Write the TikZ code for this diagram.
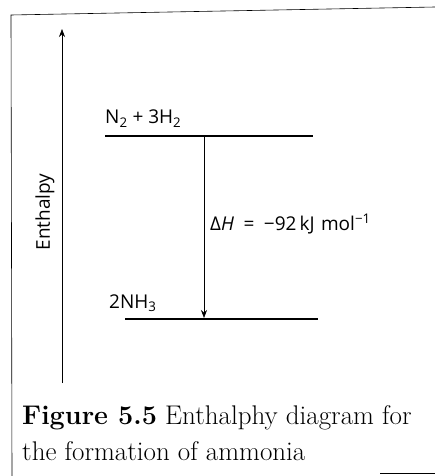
\documentclass[tikz,border=0pt]{standalone}
\usepackage{fontspec}
\setsansfont{Open Sans}
\usetikzlibrary{arrows.meta}

\begin{document}
\begin{tikzpicture}[x=1pt, y=-1pt,
    level/.style={line width=1.1pt},
    lbl/.style={font=\sffamily\fontsize{19}{22}\selectfont, inner sep=0pt},
    capt/.style={font=\fontsize{27}{32}\selectfont, inner sep=0pt, anchor=base west},
    tip/.style={-{Stealth[length=8pt, width=6pt]}}]
    \useasboundingbox (0,0) rectangle (435,476);
    % frame of the figure
    \draw[line width=0.6pt] (12,476) -- (11,15) -- (435,7);
    \draw[line width=0.6pt] (380,473) -- (435,473);
    % enthalpy axis
    \coordinate (axbot) at (62,383);
    \coordinate (axtop) at (62,29);
    \draw[tip, line width=0.6pt] (axbot) -- (axtop);
    \node[lbl, rotate=90] (enth) at (45,212) {Enthalpy};
    % energy levels
    \coordinate (upL) at (105,136);
    \coordinate (upR) at (313,136);
    \coordinate (loL) at (125,319);
    \coordinate (loR) at (318,319);
    \draw[level] (upL) -- (upR);
    \draw[level] (loL) -- (loR);
    \node[lbl, anchor=base west] (react) at (105,124) {N\textsubscript{2} + 3H\textsubscript{2}};
    \node[lbl, anchor=base west] (prod) at (109,308) {2NH\textsubscript{3}};
    % enthalpy change
    \coordinate (dtop) at (204,136);
    \coordinate (dbot) at (204,318);
    \draw[tip, line width=0.6pt] (dtop) -- (dbot);
    \node[lbl, anchor=base west] (dH) at (210,230)
        {Δ\textit{H}\enspace=\enspace−92\,kJ\,\,mol\textsuperscript{−1}};
    % caption
    \node[capt] (cap1) at (22,424) {\textbf{Figure 5.5} Enthalphy diagram for};
    \node[capt] (cap2) at (22,460) {the formation of ammonia};
\end{tikzpicture}
\end{document}
